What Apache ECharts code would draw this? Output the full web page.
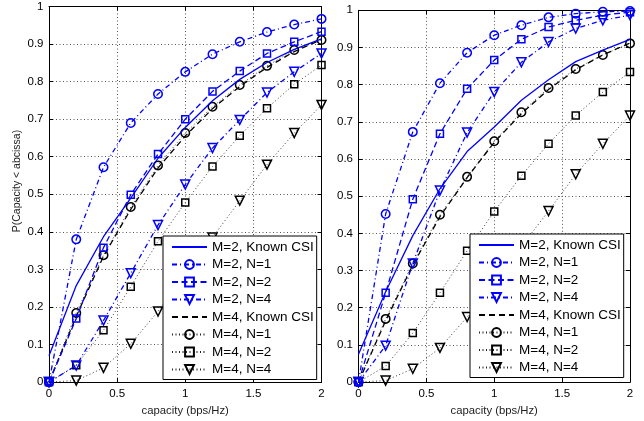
<!DOCTYPE html>
<html>
<head>
<meta charset="utf-8">
<script src="https://cdn.jsdelivr.net/npm/echarts@6/dist/echarts.min.js"></script>
<style>
html,body{margin:0;padding:0;background:#fff;}
#c{width:644px;height:421px;}
</style>
</head>
<body>
<div id="c"></div>
<script>
// ---- data ----
const capX = [0, 0.2, 0.4, 0.6, 0.8, 1.0, 1.2, 1.4, 1.6, 1.8, 2.0];
const xTicks = [0, 0.5, 1, 1.5, 2];
const yTicks = [0, 0.1, 0.2, 0.3, 0.4, 0.5, 0.6, 0.7, 0.8, 0.9, 1];
const seriesNames = ['M=2, Known CSI', 'M=2, N=1', 'M=2, N=2', 'M=2, N=4',
                     'M=4, Known CSI', 'M=4, N=1', 'M=4, N=2', 'M=4, N=4'];

// left panel
const L_m2_csi = [0.07, 0.257, 0.387, 0.49, 0.596, 0.678, 0.749, 0.806, 0.851, 0.886, 0.914];
const L_m2_n1  = [0, 0.38, 0.572, 0.69, 0.767, 0.826, 0.873, 0.906, 0.932, 0.952, 0.967];
const L_m2_n2  = [0, 0.169, 0.358, 0.499, 0.607, 0.70, 0.774, 0.828, 0.875, 0.906, 0.933];
const L_m2_n4  = [0, 0.044, 0.164, 0.29, 0.418, 0.526, 0.623, 0.698, 0.771, 0.826, 0.875];
const L_m4_csi = [0, 0.175, 0.335, 0.46, 0.57, 0.655, 0.728, 0.787, 0.838, 0.88, 0.912];
const L_m4_n1  = [0, 0.184, 0.338, 0.466, 0.577, 0.663, 0.733, 0.791, 0.842, 0.884, 0.911];
const L_m4_n2  = [0, 0.045, 0.138, 0.254, 0.375, 0.478, 0.574, 0.656, 0.729, 0.793, 0.844];
const L_m4_n4  = [0, 0.004, 0.038, 0.102, 0.188, 0.29, 0.385, 0.483, 0.579, 0.663, 0.738];

// right panel
const R_m2_csi = [0.075, 0.243, 0.394, 0.52, 0.62, 0.686, 0.758, 0.813, 0.862, 0.893, 0.922];
const R_m2_n1  = [0, 0.452, 0.673, 0.804, 0.886, 0.933, 0.96, 0.981, 0.991, 0.996, 0.998];
const R_m2_n2  = [0, 0.24, 0.492, 0.668, 0.789, 0.866, 0.922, 0.955, 0.973, 0.987, 0.995];
const R_m2_n4  = [0, 0.098, 0.319, 0.515, 0.671, 0.78, 0.86, 0.915, 0.951, 0.973, 0.987];
const R_m4_csi = [0, 0.165, 0.315, 0.445, 0.55, 0.645, 0.722, 0.787, 0.84, 0.88, 0.912];
const R_m4_n1  = [0, 0.17, 0.319, 0.45, 0.552, 0.648, 0.726, 0.791, 0.842, 0.88, 0.911];
const R_m4_n2  = [0, 0.043, 0.132, 0.24, 0.353, 0.459, 0.555, 0.641, 0.717, 0.78, 0.834];
const R_m4_n4  = [0, 0.004, 0.036, 0.092, 0.175, 0.27, 0.365, 0.46, 0.559, 0.641, 0.717];

const leftData  = [L_m2_csi, L_m2_n1, L_m2_n2, L_m2_n4, L_m4_csi, L_m4_n1, L_m4_n2, L_m4_n4];
const rightData = [R_m2_csi, R_m2_n1, R_m2_n2, R_m2_n4, R_m4_csi, R_m4_n1, R_m4_n2, R_m4_n4];

const xTitle = 'capacity (bps/Hz)';
const yTitle = 'P(Capacity < abcissa)';

// ---- styles ----
const BLUE = '#0000ff', BLACK = '#000000';
const FONT = "'Liberation Sans', Arial, Helvetica, sans-serif";
const DASHDOT = [5, 3, 1, 3];
const styles = [
  {color: BLUE,  type: 'solid', symbol: 'none'},
  {color: BLUE,  type: DASHDOT, symbol: 'circle', size: 8.5},
  {color: BLUE,  type: [6, 3.5], symbol: 'rect', size: 7},
  {color: BLUE,  type: DASHDOT, symbol: 'triangle', size: 9, rot: 180},
  {color: BLACK, type: [6, 4], symbol: 'none'},
  {color: '#222', type: [1, 2.5], symbol: 'circle', size: 8.5, mcolor: BLACK, lw: 0.9},
  {color: '#222', type: [1, 2.5], symbol: 'rect', size: 7, mcolor: BLACK, lw: 0.9},
  {color: '#222', type: [1, 2.5], symbol: 'triangle', size: 9, rot: 180, mcolor: BLACK, lw: 0.9}
];

function makeSeries(dataArr, xi, yi) {
  return dataArr.map((vals, k) => {
    const s = styles[k];
    const noSym = s.symbol === 'none';
    return {
      name: seriesNames[k],
      type: 'line',
      xAxisIndex: xi,
      yAxisIndex: yi,
      data: capX.map((x, i) => [x, vals[i]]),
      symbol: noSym ? 'circle' : s.symbol,
      showSymbol: !noSym,
      symbolSize: noSym ? 1 : s.size,
      symbolRotate: s.rot || 0,
      lineStyle: {color: s.color, width: s.lw || 1.3, type: s.type},
      itemStyle: noSym
        ? {color: 'rgba(0,0,0,0)', borderWidth: 0, borderColor: 'rgba(0,0,0,0)'}
        : {color: 'rgba(0,0,0,0)', borderColor: s.mcolor || s.color, borderWidth: 1.5},
      emphasis: {disabled: true},
      animation: false,
      z: 3 + (7 - k) * 0.01
    };
  });
}

const gridL = {left: 49, top: 6.5, width: 272.5, height: 377.8};
const gridR = {left: 358.5, top: 10.3, width: 271.5, height: 374};

const gridLine = {show: true, lineStyle: {color: '#555', width: 1, type: [1, 2.5]}};
const tickIn = {show: true, inside: true, length: 4, lineStyle: {color: '#000', width: 1}};
const axisLineBlk = {show: true, onZero: false, lineStyle: {color: '#000', width: 1}};
const labelFmt = v => String(Number(v.toFixed(2)));

function xMain(gi) {
  return {
    type: 'value', gridIndex: gi, position: 'bottom', min: xTicks[0], max: xTicks[xTicks.length - 1], interval: 0.5,
    axisLine: axisLineBlk, axisTick: tickIn, splitLine: gridLine,
    axisLabel: {color: '#000', fontSize: 11.5, fontFamily: FONT, margin: 6, formatter: labelFmt},
    name: xTitle, nameLocation: 'middle', nameGap: 21,
    nameTextStyle: {color: '#222', fontSize: 11.3, fontFamily: FONT}
  };
}
function xTop(gi) {
  return {
    type: 'value', gridIndex: gi, position: 'top', min: 0, max: 2, interval: 0.5,
    axisLine: axisLineBlk, axisTick: tickIn, splitLine: {show: false}, axisLabel: {show: false}
  };
}
function yMain(gi) {
  return {
    type: 'value', gridIndex: gi, position: 'left', min: yTicks[0], max: yTicks[yTicks.length - 1], interval: 0.1,
    axisLine: axisLineBlk, axisTick: tickIn, splitLine: gridLine,
    axisLabel: {color: '#000', fontSize: 11.5, fontFamily: FONT, margin: 5.5, formatter: labelFmt}
  };
}
function yRight(gi) {
  return {
    type: 'value', gridIndex: gi, position: 'right', min: 0, max: 1, interval: 0.1,
    axisLine: axisLineBlk, axisTick: tickIn, splitLine: {show: false}, axisLabel: {show: false}
  };
}

function legendAt(left, top) {
  return {
    orient: 'vertical', left: left, top: top,
    data: seriesNames,
    backgroundColor: '#fff', borderColor: '#000', borderWidth: 1, borderRadius: 0,
    padding: [4, 3, 3, 8],
    itemWidth: 35, itemHeight: 11, itemGap: 3.5,
    textStyle: {color: '#000', fontSize: 13.5, fontFamily: FONT, lineHeight: 14, padding: [0, 0, 0, 0]},
    selectedMode: false,
    z: 10
  };
}

const chart = echarts.init(document.getElementById('c'), null, {renderer: 'canvas'});
chart.setOption({
  backgroundColor: '#fff',
  animation: false,
  grid: [gridL, gridR],
  xAxis: [xMain(0), xTop(0), xMain(1), xTop(1)],
  yAxis: [yMain(0), yRight(0), yMain(1), yRight(1)],
  legend: [legendAt(163, 236), legendAt(470, 234)],
  graphic: [{
    type: 'text', x: 16.8, y: 181, rotation: Math.PI / 2,
    style: {text: yTitle, fill: '#222', fontSize: 10.5, fontFamily: FONT, align: 'center', verticalAlign: 'middle'}
  }],
  series: makeSeries(leftData, 0, 0).concat(makeSeries(rightData, 2, 2))
});
</script>
</body>
</html>
